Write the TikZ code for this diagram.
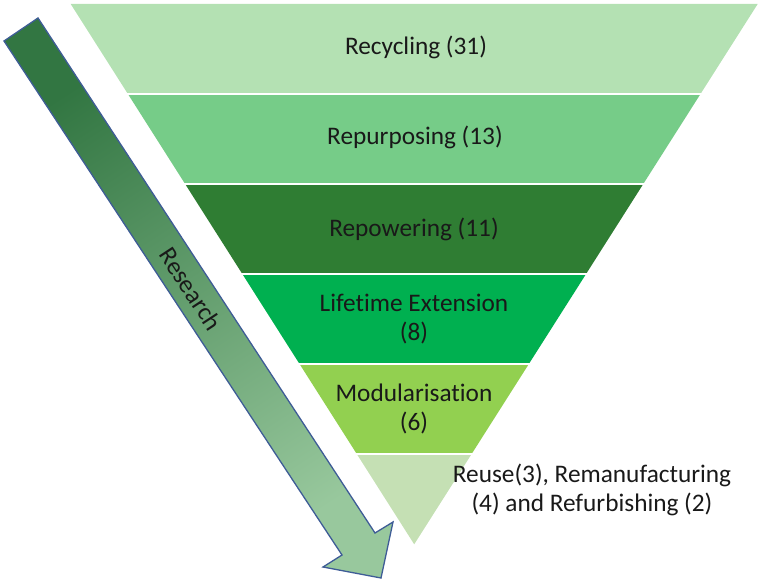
\documentclass[tikz,border=0pt]{standalone}
\usepackage{fontspec}
\setmainfont[Ligatures=NoCommon]{Carlito}
\begin{document}
\begin{tikzpicture}[x=1pt,y=-1pt,
  band/.style={fill=#1,draw=none},
  gapline/.style={draw=white,line width=2pt},
  lbl/.style={font=\fontsize{25.3}{29}\selectfont,text=black!90,align=center,inner sep=0pt},
  arrowbody/.style={draw=arrowline,line width=1.3pt,line join=miter,
    top color=arrowtop,bottom color=arrowbot,shading angle=33.3}]
\definecolor{bandA}{RGB}{180,225,179}
\definecolor{bandB}{RGB}{118,204,136}
\definecolor{bandC}{RGB}{47,125,51}
\definecolor{bandD}{RGB}{0,176,80}
\definecolor{bandE}{RGB}{146,208,80}
\definecolor{bandF}{RGB}{197,224,180}
\definecolor{arrowtop}{RGB}{50,118,66}
\definecolor{arrowbot}{RGB}{152,200,157}
\definecolor{arrowline}{RGB}{62,92,150}
\useasboundingbox (0,0) rectangle (762,583);
% funnel bands
\path[band=bandA] (70.7,4) -- (757.7,4) -- (700.48,94) -- (127.92,94) -- cycle;
\path[band=bandB] (127.92,94) -- (700.48,94) -- (643.26,184) -- (185.14,184) -- cycle;
\path[band=bandC] (185.14,184) -- (643.26,184) -- (586.05,274) -- (242.35,274) -- cycle;
\path[band=bandD] (242.35,274) -- (586.05,274) -- (528.83,364) -- (299.57,364) -- cycle;
\path[band=bandE] (299.57,364) -- (528.83,364) -- (471.61,454) -- (356.79,454) -- cycle;
\path[band=bandF] (356.79,454) -- (471.61,454) -- (414.2,544.3) -- cycle;
\draw[gapline] (125,94) -- (703,94);
\draw[gapline] (182,184) -- (646,184);
\draw[gapline] (239,274) -- (589,274);
\draw[gapline] (296,364) -- (532,364);
\draw[gapline] (353,454) -- (475,454);
% labels
\node[lbl] (recycling) at (416,47) {Recycling (31)};
\node[lbl] (repurposing) at (415,137) {Repurposing (13)};
\node[lbl] (repowering) at (414,229) {Repowering (11)};
\node[lbl] (lifetime) at (414,319) {Lifetime Extension\\(8)};
\node[lbl] (modular) at (414,409) {Modularisation\\(6)};
\node[lbl] (reuse) at (592,490) {Reuse(3), Remanufacturing\\(4) and Refurbishing (2)};
% research arrow
\path[arrowbody] (4,41) -- (38,18) -- (375,533) -- (393,522) -- (381,578) -- (323,567) -- (342,555) -- cycle;
\node[lbl,rotate=-56.7] (research) at (191,289) {Research};
\end{tikzpicture}
\end{document}
